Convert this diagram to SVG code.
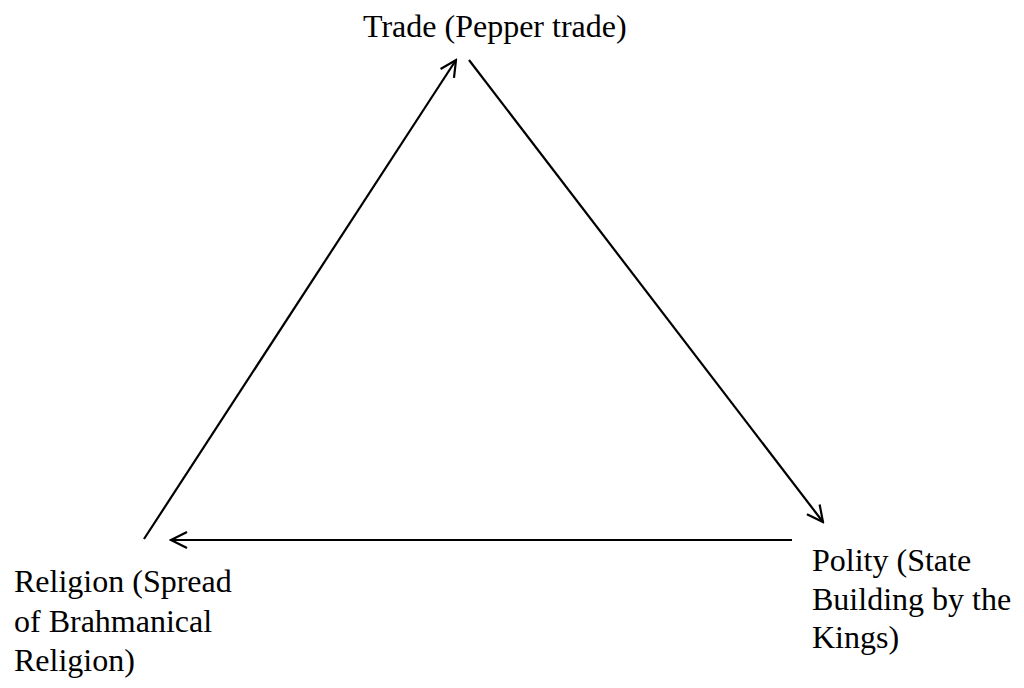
<svg xmlns="http://www.w3.org/2000/svg" width="1024" height="688" viewBox="0 0 1024 688">
<style>
.t{font-size:32px;fill:#000}
.c{stroke:#000;stroke-width:2.2;fill:none}
</style>
<defs>
<marker id="ah" markerWidth="20" markerHeight="20" viewBox="-18 -10 20 20" refX="0" refY="0" orient="auto" markerUnits="userSpaceOnUse">
<polyline points="-16,-8 0,0 -16,8" fill="none" stroke="#000" stroke-width="2.2"/>
</marker>
</defs>
<rect width="1024" height="688" fill="#fff"/>
<g id="connectors">
<line class="c" x1="144" y1="539" x2="456" y2="60" marker-end="url(#ah)"/>
<line class="c" x1="469" y1="60" x2="823" y2="522" marker-end="url(#ah)"/>
<line class="c" x1="792" y1="540" x2="171" y2="540" marker-end="url(#ah)"/>
</g>
<g font-family="'Liberation Serif', 'Times New Roman', 'DejaVu Serif', serif">
<g id="trade"><text class="t" x="363" y="37">Trade (Pepper trade)</text></g>
<g id="religion"><text class="t" x="14" y="592">Religion (Spread</text><text class="t" x="14" y="632">of Brahmanical</text><text class="t" x="14" y="671">Religion)</text></g>
<g id="polity"><text class="t" x="812" y="571">Polity (State</text><text class="t" x="812" y="610">Building by the</text><text class="t" x="812" y="648">Kings)</text></g>
</g>
</svg>
